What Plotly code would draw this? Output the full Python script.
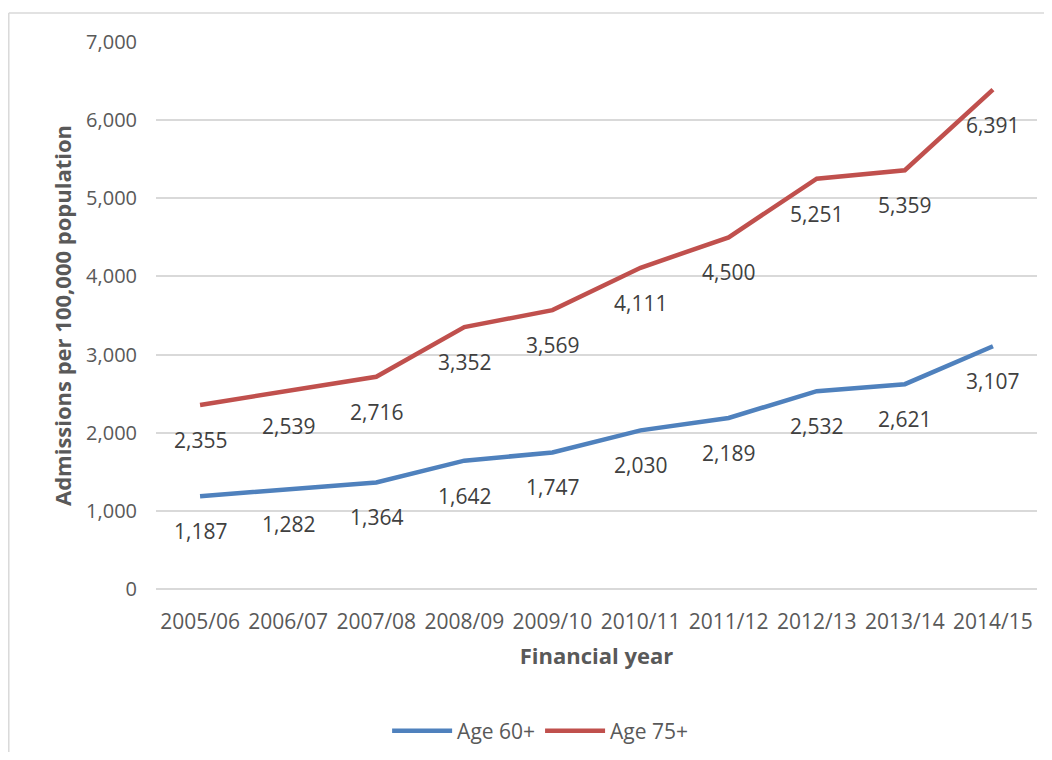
import plotly.graph_objects as go

years = ["2005/06", "2006/07", "2007/08", "2008/09", "2009/10",
         "2010/11", "2011/12", "2012/13", "2013/14", "2014/15"]
age60 = [1187, 1282, 1364, 1642, 1747, 2030, 2189, 2532, 2621, 3107]
age75 = [2355, 2539, 2716, 3352, 3569, 4111, 4500, 5251, 5359, 6391]

FONT = "Open Sans"
fig = go.Figure()
fig.add_trace(go.Scatter(x=years, y=age60, mode="lines", name="Age 60+",
                         line=dict(color="#4f81bd", width=4.5)))
fig.add_trace(go.Scatter(x=years, y=age75, mode="lines", name="Age 75+",
                         line=dict(color="#c0504d", width=4.5)))

annotations = []
for series in (age60, age75):
    for x, v in zip(years, series):
        annotations.append(dict(x=x, y=v, xref="x", yref="y", text=f"{v:,}",
                                showarrow=False, yshift=-35,
                                font=dict(family=FONT, size=21, color="#404040")))

BORDER = dict(color="#d9d9d9", width=1.5)
fig.update_layout(
    width=1036, height=744,
    margin=dict(l=148, r=7, t=34, b=163, autoexpand=False),
    paper_bgcolor="white", plot_bgcolor="white",
    font=dict(family=FONT, size=20, color="#595959"),
    showlegend=True,
    legend=dict(orientation="h", x=0.436, xanchor="center", y=-0.2596, yanchor="middle",
                font=dict(family=FONT, size=21, color="#595959"),
                itemwidth=60),
    annotations=annotations,
    shapes=[
        dict(type="line", xref="paper", yref="paper", x0=-0.1671, x1=1.2,
             y0=1.053, y1=1.053, line=BORDER, layer="below"),
        dict(type="line", xref="paper", yref="paper", x0=-0.1671, x1=-0.1671,
             y0=-0.5, y1=1.053, line=BORDER, layer="below"),
    ],
)
fig.update_xaxes(type="category", range=[-0.5, 9.5], showgrid=False, showline=False,
                 ticks="", ticklabelstandoff=18, tickfont=dict(size=21),
                 title=dict(text="<b>Financial year</b>", standoff=14,
                            font=dict(family=FONT, size=22, color="#595959")))
fig.update_yaxes(range=[0, 7000], dtick=1000, tickformat=",",
                 showgrid=True, gridcolor="#d9d9d9", gridwidth=1.5,
                 zeroline=True, zerolinecolor="#d9d9d9", zerolinewidth=1.5,
                 showline=False, ticks="", ticklabelstandoff=18,
                 title=dict(text="<b>Admissions per 100,000 population</b>", standoff=8,
                            font=dict(family=FONT, size=22, color="#595959")))

fig.write_html("out.html")
